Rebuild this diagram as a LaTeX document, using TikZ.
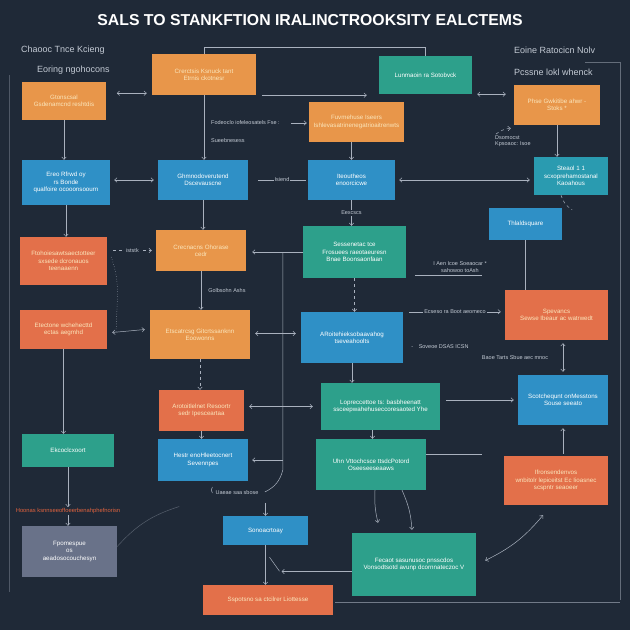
\documentclass[tikz,border=0pt]{standalone}
\usepackage{fontspec}
\setmainfont{Liberation Sans}
\usetikzlibrary{positioning,arrows.meta}

\definecolor{bgnavy}{HTML}{1F2937}
\definecolor{boxorange}{HTML}{E8964A}
\definecolor{boxred}{HTML}{E3704A}
\definecolor{boxteal}{HTML}{2DA08B}
\definecolor{boxcyan}{HTML}{2A9BB0}
\definecolor{boxblue}{HTML}{2F90C6}
\definecolor{boxgray}{HTML}{697289}
\definecolor{creamtext}{HTML}{FBE6BC}
\definecolor{lbltext}{HTML}{C3CAD4}
\definecolor{linegray}{HTML}{A9B1BE}
\definecolor{redlbl}{HTML}{E2633E}

\tikzset{
    >={Straight Barb[length=2.5pt,width=4.5pt]},
    box/.style={rectangle, inner sep=2pt, align=center, font=\fontsize{6.2}{7.4}\selectfont},
    obox/.style={box, fill=boxorange, text=creamtext},
    rbox/.style={box, fill=boxred, text=creamtext},
    tbox/.style={box, fill=boxteal, text=white},
    cbox/.style={box, fill=boxcyan, text=white},
    bbox/.style={box, fill=boxblue, text=white},
    gbox/.style={box, fill=boxgray, text=white},
    sz/.style 2 args={minimum width=#1, minimum height=#2},
    lbl/.style={font=\fontsize{5.5}{6.6}\selectfont, text=lbltext, inner sep=1pt},
    head/.style={font=\fontsize{9}{10.5}\selectfont, text=lbltext, inner sep=1pt},
    link/.style={draw=linegray, line width=0.5pt},
    gap/.style={lbl, fill=bgnavy},
}

\begin{document}
\begin{tikzpicture}[x=1pt,y=-1pt]
    \fill[bgnavy] (0,0) rectangle (630,630);
    \useasboundingbox (0,0) rectangle (630,630);

    % === TITLE ===
    \node[font=\bfseries\fontsize{15.8}{18}\selectfont, text=white] (title) at (310,20)
        {SALS TO STANKFTION IRALINCTROOKSITY EALCTEMS};

    % === HEADINGS ===
    \node[head, anchor=west] (hdTL) at (20,50) {Chaooc Tnce Kcieng};
    \node[head, anchor=west] (hdTL2) at (36,70) {Eoring ngohocons};
    \node[head, anchor=west] (hdTR) at (513,50) {Eoine Ratocicn Nolv};
    \node[head, anchor=west] (hdTR2) at (513,72) {Pcssne lokl whenck};

    % === ROW 1 ===
    \node[obox, sz={84}{38}] (gather) at (64,101) {Gtonscsal\\Gsdenamcnd reshtdis};
    \node[obox, sz={104}{41}] (crerc) at (204,74.5) {Crerctsis Ksnuck tant\\Etrnis ckotnesr};
    \node[tbox, sz={93}{38}] (lunma) at (425.5,75) {Lunmaoin ra Sotobvck};
    \node[obox, sz={86}{40}] (phse) at (557,105) {Phse Gwkitibe ahwr -\\Stoks *};
    \node[obox, sz={95}{40}] (fuvme) at (356.5,122) {Fuvmehuse Iseers\\Ishlevasatrinenegatrioaitrenwts};

    % === ROW 2 ===
    \node[bbox, sz={88}{45}] (ereo) at (66,182.5) {Ereo Rfrwd oy\\rs Bonde\\qualfoire ocooonsoourn};
    \node[bbox, sz={90}{40}] (ghmno) at (203,180) {Ghmnodoverutend\\Dscevauscne};
    \node[bbox, sz={87}{40}] (iteou) at (351.5,180) {Iteoutheos\\enoorcicwe};
    \node[cbox, sz={74}{38}] (steaol) at (571,176) {Steaol 1 1\\scxoprehamostanal\\Kaoahous};
    \node[bbox, sz={73}{32}] (thlald) at (525.5,224) {Thlaldsquare};

    % === ROW 3 ===
    \node[rbox, sz={87}{48}] (ftoho) at (63.5,261) {Ftohoiesawtsaectotteer\\sxsede dcronauos\\teenaaenn};
    \node[obox, sz={90}{41}] (crecn) at (201,250.5) {Crecnacns Ohorase\\cedr};
    \node[tbox, sz={103}{52}] (sesse) at (354.5,252) {Sessenetac tce\\Frosuees raeotaeuresn\\Bnae Boonsaonfaan};
    \node[rbox, sz={87}{39}] (etect) at (63.5,329.5) {Etectone wchehecttd\\ectas aegmhd};
    \node[obox, sz={100}{49}] (etsca) at (200,334.5) {Etscatrcsg Gitcrtssanknn\\Eoowonns};
    \node[bbox, sz={102}{51}] (aroit) at (352,337.5) {ARoitehieksobaavahog\\tseveahoolts};
    \node[rbox, sz={103}{50}] (spev) at (556.5,315) {Spevancs\\Sewse Ibeaur ac watrwedt};

    % === ROW 4 ===
    \node[bbox, sz={90}{50}] (scotc) at (563,400) {Scotchequnt onMesstons\\Souse seeato};
    \node[rbox, sz={85}{41}] (aroto) at (201.5,410.5) {Arotoitlelnet Resoortr\\sedr Ipesceartaa};
    \node[tbox, sz={119}{47}] (lopre) at (380.5,406.5) {Lopreccettoe ts: basbheenatt\\ssceepwahehuseccoresaoted Yhe};
    \node[tbox, sz={92}{33}] (ekcoc) at (68,450.5) {Ekcoclcxoort};
    \node[bbox, sz={90}{42}] (hestr) at (203,460) {Hestr enoHleetocnert\\Sevennpes};
    \node[tbox, sz={110}{51}] (uhnvt) at (371,464.5) {Uhn Vttochcsce ttsdcPotord\\Oseeseeseaaws};
    \node[rbox, sz={104}{49}] (ifron) at (556,480.5) {Ifronsendenvos\\wnbitolr lepiceitst Ec Iioasnec\\scspntr seaoeer};

    % === ROW 5 ===
    \node[font=\fontsize{5.8}{6.8}\selectfont, text=redlbl, inner sep=1pt] (hoonas) at (68,511)
        {Hoonas ksnnseeoffoeerbenahphefnorisn};
    \node[gbox, sz={95}{51}] (fpome) at (69.5,551.5) {Fpomespue\\os\\aeadosocouchesyn};
    \node[bbox, sz={85}{29}] (sonoa) at (265.5,530.5) {Sonoacrtoay};
    \node[tbox, sz={124}{63}] (fecao) at (414,564.5) {Fecaot sasunusoc pnsscdos\\Vonsodtsotd avunp dcornnateczoc V};
    \node[rbox, sz={130}{30}] (sspot) at (268,600) {Sspotsno sa ctcilrer Liottesse};

    % === FRAME LINES ===
    \coordinate (frameTR) at (620,62);
    \coordinate (frameBR) at (620,600);
    \draw[link, opacity=0.5] ([xshift=-35]frameTR) -- (frameTR) -- (frameBR);
    \draw[link, opacity=0.35] (9,75) -- (9,592);
    \draw[link, opacity=0.6] ([xshift=2,yshift=-2]sspot.east) -- ([yshift=-2]sspot.east -| frameBR);

    % === CONNECTORS ===
    \draw[link] (crerc.north) -- ++(0,-7) -| (lunma.north);
    \draw[link, <->] ([xshift=-35,yshift=2]crerc.south west) -- ([xshift=-5,yshift=2]crerc.south west);
    \draw[link, ->] ([xshift=6]crerc.south east) -- ([xshift=-12]crerc.south east -| lunma.west);
    \draw[link, <->] ([xshift=5]lunma.south east) -- ([xshift=-8]lunma.south east -| phse.west);

    % labels below Crerc
    \node[lbl, anchor=west] (fodeo) at (210,123) {Fodeoclo iofeleosatels Fse :};
    \node[lbl, anchor=west] (sueeb) at (210,141) {Sueebnesess};
    \draw[link, ->] (crerc.south) -- (crerc.south |- ghmno.north);
    \draw[link, ->] ([xshift=10]fodeo.east) -- ([xshift=-2]fodeo.east -| fuvme.west);

    % right column
    \node[lbl, align=left, anchor=west] (dsomo) at (494,141) {Dsomocst\\Kpsoaoc: Isoe};
    \draw[link, ->, dashed] ([xshift=2]dsomo.north west) to[bend left=15] ([xshift=-3,yshift=-3]phse.south west);
    \draw[link, ->] ([xshift=-14]phse.south -| steaol.north) -- ([xshift=-14]steaol.north);
    \draw[link, dashed] ([xshift=-10]steaol.south) to[bend right=20] ([xshift=10,yshift=-2]thlald.north east);

    % row 2 links
    \draw[link, ->] (gather.south) -- (gather.south |- ereo.north);
    \draw[link, <->] ([xshift=4]ereo.east |- ghmno.west) -- ([xshift=-4]ghmno.west);
    \draw[link] (ghmno.east) ++(10,0) -- node[gap] {Isiend} ([xshift=-2]iteou.west);
    \draw[link, ->] (iteou.north |- fuvme.south) -- (iteou.north);
    \draw[link, <->] ([xshift=4]iteou.east) -- ([xshift=-4]iteou.east -| steaol.west);
    \draw[link, ->] (iteou.south) -- node[gap] {Eexcscs} (iteou.south |- sesse.north);
    \draw[link, ->] (ghmno.south) -- (ghmno.south |- crecn.north);
    \draw[link, ->] (ereo.south) -- (ereo.south |- ftoho.north);

    % row 3 links
    \draw[link] (thlald.south) -- (thlald.south |- spev.north);
    \node[lbl, align=center] (iaen) at (460,267) {I Aen Icoe Soeaocar *\\sahowoo toAsh};
    \draw[link] ([xshift=9,yshift=3]sesse.south east) -- ++(67,0);
    \draw[link, ->, dashed] ([xshift=6]ftoho.east |- crecn.west) -- node[gap] {iststk} ([xshift=-4]crecn.west);
    \draw[link, ->] (sesse.west) -- ([xshift=6]crecn.east |- sesse.west);
    \coordinate (vdrop) at ([xshift=-20]sesse.west);
    \draw[link] (vdrop) -- ([yshift=-218]vdrop) to[bend left=25] ([xshift=-18,yshift=-240]vdrop);
    \draw[link, ->] (crecn.south) -- node[lbl, anchor=west, xshift=6] {Golbsohn Ashs} (crecn.south |- etsca.north);
    \draw[link, ->, dashed] (sesse.south) -- (sesse.south |- aroit.north);
    \draw[link, dotted] ([xshift=4,yshift=4]ftoho.east) to[out=-70,in=90] ([xshift=9,yshift=-3]etect.east);
    \draw[link, ->] (etect.south) -- (etect.south |- ekcoc.north);

    % row 3-4 links
    \draw[link, <->] ([xshift=5,yshift=-3]etect.east) -- ([xshift=-5]etect.east -| etsca.west);
    \draw[link, <->] ([xshift=5,yshift=1]etsca.east) -- ([xshift=-5,yshift=1]etsca.east -| aroit.west);
    \draw[link, ->] ([xshift=6]aroit.north east) -- node[gap] {Ecseso ra Boot aeomeco} ([xshift=-4]aroit.north east -| spev.west);
    \node[lbl] (sovoe) at (440,347) {-\quad Soveoe DSAS ICSN};
    \node[lbl] (baoe) at (515,358) {Baoe Tarts Sbue aec mnoc};
    \coordinate (spevOut) at ([yshift=-3]scotc.north |- spev.south);
    \draw[link, <->] (spevOut) -- ([yshift=3]scotc.north);
    \draw[link, ->, dashed] (etsca.south) -- (etsca.south |- aroto.north);
    \draw[link, ->] (aroit.south) -- (aroit.south |- lopre.north);
    \draw[link, ->] ([xshift=6]lopre.east |- scotc.west) -- ([xshift=-4]scotc.west);
    \draw[link, <->] ([xshift=5]aroto.east |- lopre.west) -- ([xshift=-8]lopre.west);
    \draw[link, ->] ([yshift=2]ifron.north -| scotc.south) -- ([yshift=-3]scotc.south);

    % row 4-5 links
    \draw[link, ->] (aroto.south) -- (aroto.south |- hestr.north);
    \draw[link, ->] (vdrop |- hestr.east) -- ([xshift=4]hestr.east);
    \draw[link, ->] ([xshift=-8]lopre.south) -- ([xshift=-8]lopre.south |- uhnvt.north);
    \draw[link] ([yshift=10]uhnvt.east) -- ++(56,0);
    \node[lbl] (uaeae) at (237,493) {Uaeae saa sbose};
    \draw[link] ([xshift=-2,yshift=6]uaeae.west) to[bend right=40] ([xshift=-2]uaeae.west);
    \draw[link, ->] (ekcoc.south) -- (hoonas.north);
    \draw[link, ->] (hoonas.south) -- (hoonas.south |- fpome.north);
    \draw[link, opacity=0.4] ([yshift=5]fpome.east) to[bend left=15] ([xshift=62,yshift=45]fpome.east);

    % bottom links
    \draw[link, ->] ([xshift=4]uhnvt.south) to[bend right=8] ([xshift=-36,yshift=10]fecao.north);
    \draw[link, ->] ([xshift=31]uhnvt.south) to[bend left=10] ([xshift=-2,yshift=3]fecao.north);
    \draw[link, <->] ([xshift=9,yshift=4]fecao.east) to[bend right=12] ([xshift=-13,yshift=-10]ifron.south);
    \draw[link, ->] ([yshift=13]sonoa.north) -- (sonoa.north);
    \draw[link, ->] (sonoa.south) -- (sonoa.south |- sspot.north);
    \coordinate (aaIn) at ([yshift=-7]fecao.west);
    \draw[link, ->] (aaIn) -- ([xshift=16]sonoa.south |- aaIn);
    \draw[link] ([xshift=4,yshift=-12]sonoa.south) -- ([xshift=14,yshift=-26]sonoa.south);
\end{tikzpicture}
\end{document}
